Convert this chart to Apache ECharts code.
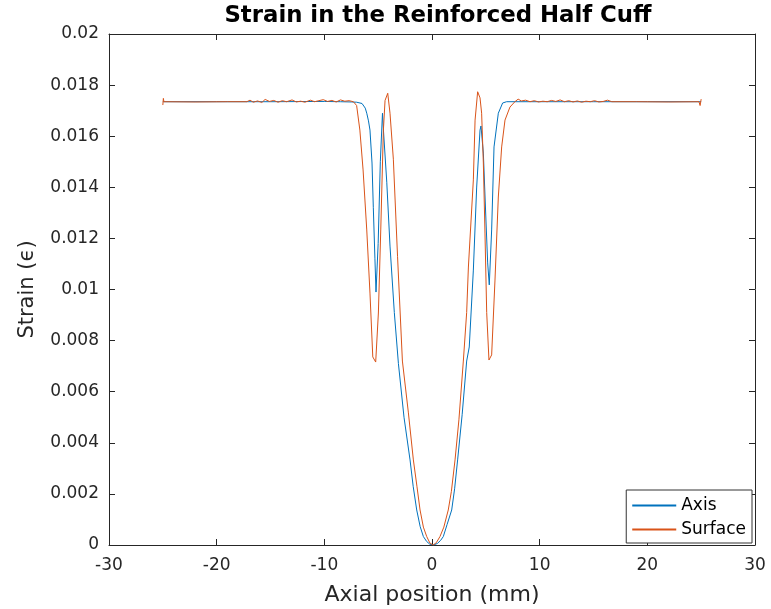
<!DOCTYPE html>
<html>
<head>
<meta charset="utf-8">
<title>Strain in the Reinforced Half Cuff</title>
<script src="https://cdn.jsdelivr.net/npm/echarts@6/dist/echarts.min.js"></script>
<style>
  html, body { margin: 0; padding: 0; background: #fff; }
  #chart { width: 771px; height: 609px; }
</style>
</head>
<body>
<div id="chart"></div>
<script>
// Axis (blue) curve
const axisX = [-25, -20, -15, -10, -8.5, -7.5, -7.0, -6.5, -6.2, -6.06, -5.9, -5.76, -5.57, -5.45, -5.3, -5.2,
  -5.0, -4.8, -4.6, -4.52, -4.2, -3.9, -3.5, -3.12, -2.6, -2.04, -1.75, -1.42, -1.1, -0.8, -0.5, -0.2, 0.15,
  0.5, 0.8, 1.05, 1.4, 1.83, 2.1, 2.38, 2.8, 3.22, 3.46, 3.84, 4.15, 4.46, 4.55, 4.77, 5.01, 5.17, 5.32,
  5.54, 5.76, 6.16, 6.56, 6.93, 10, 15, 20, 25];
const axisY = [0.01735, 0.01735, 0.01735, 0.01736, 0.01735, 0.01734, 0.01733, 0.01728, 0.0171, 0.0169, 0.0166, 0.01624, 0.01495, 0.0132, 0.0112, 0.0099,
  0.0118, 0.015, 0.0169, 0.0163, 0.0142, 0.0117, 0.0091, 0.0071, 0.005, 0.00333, 0.0023, 0.00137, 0.00072, 0.00033, 0.00014, 0.00003, 0,
  0.00006, 0.00018, 0.00033, 0.0008, 0.00137, 0.0022, 0.00333, 0.0051, 0.0072, 0.00775, 0.01076, 0.01401, 0.01624, 0.0164, 0.01534, 0.01272, 0.01104, 0.01018,
  0.01233, 0.01558, 0.0169, 0.0173, 0.01735, 0.01735, 0.01735, 0.01735, 0.01735];

// Surface (orange) curve
const surfX = [-25, -24.95, -24.9, -24.8, -22, -19, -17.2, -16.9, -16.6, -16.2, -15.8, -15.5, -15.1, -14.7, -14.3, -13.9,
  -13.5, -13.0, -12.6, -12.2, -11.8, -11.3, -10.9, -10.5, -10.1, -9.7, -9.3, -8.9, -8.5, -8.1, -7.7, -7.3,
  -7.0, -6.7, -6.4, -6.06, -5.76, -5.5, -5.23, -4.98, -4.76, -4.52, -4.36, -4.11, -3.9, -3.59, -3.2, -2.75,
  -2.2, -1.73, -1.4, -1.11, -0.8, -0.49, -0.2, 0.1, 0.4, 0.74, 1.1, 1.51, 1.8, 2.14, 2.5, 2.91,
  3.22, 3.38, 3.84, 4.0, 4.24, 4.46, 4.61, 4.77, 4.92,
  5.08, 5.29, 5.39, 5.54, 5.85, 6.16, 6.47, 6.78, 7.24, 7.7, 8.0, 8.3, 8.7, 9.1, 9.5, 9.9, 10.3, 10.7,
  11.1, 11.5, 11.9, 12.3, 12.7, 13.1, 13.5, 13.9, 14.3, 14.7, 15.1, 15.5, 15.9, 16.3, 16.7, 19, 22, 24.8,
  24.9, 25];
const surfY = [0.01722, 0.01748, 0.01735, 0.01735, 0.01734, 0.01735, 0.01735, 0.01741, 0.01733, 0.01738, 0.01732, 0.01744, 0.01736, 0.0174, 0.01733, 0.01739,
  0.01735, 0.01742, 0.01734, 0.01737, 0.01733, 0.01741, 0.01735, 0.01739, 0.01743, 0.01736, 0.0174, 0.01734, 0.01742, 0.01737, 0.01739, 0.01735,
  0.0172, 0.01624, 0.01468, 0.01233, 0.00986, 0.00736, 0.00716, 0.00908, 0.01233, 0.0162, 0.0174, 0.01768, 0.0169, 0.0151, 0.0113, 0.0072,
  0.0052, 0.00333, 0.0023, 0.00137, 0.0007, 0.00033, 0.00008, 0, 0.00009, 0.00033, 0.0007, 0.00137, 0.0021, 0.00333, 0.0049, 0.0072,
  0.0091, 0.01088, 0.01429, 0.01663, 0.01774, 0.0175, 0.0169, 0.01495, 0.01221,
  0.0091, 0.00724, 0.00717, 0.00744, 0.01037, 0.01362, 0.01558, 0.01663, 0.01714, 0.01735, 0.01745, 0.01738, 0.01741, 0.01735, 0.01739, 0.01734, 0.01737, 0.01735,
  0.0174, 0.01736, 0.01742, 0.01735, 0.01739, 0.01734, 0.01738, 0.01733, 0.01737, 0.01735, 0.01739, 0.01734, 0.01736, 0.01741, 0.01735, 0.01735, 0.01734, 0.01735,
  0.0172, 0.01745];

const xTicks = [-30, 30, 10];   // min, max, step
const yTicks = [0, 0.02, 0.002];

const chart = echarts.init(document.getElementById('chart'));

const axisColor = '#262626';
const tickFont = { color: axisColor, fontSize: 17, fontFamily: 'DejaVu Sans' };

function fmt(v) {
  return String(parseFloat(v.toFixed(4)));
}

// box axes: line + inward ticks, never on zero
function boxAxis(extra) {
  return Object.assign({
    type: 'value',
    axisLine: { show: true, onZero: false, lineStyle: { color: axisColor, width: 1 } },
    axisTick: { show: true, inside: true, length: 6, lineStyle: { color: axisColor } },
    splitLine: { show: false }
  }, extra);
}

const option = {
  animation: false,
  backgroundColor: '#fff',
  title: {
    text: 'Strain in the Reinforced Half Cuff',
    left: 433,
    top: 0,
    textAlign: 'center',
    textStyle: { fontFamily: 'DejaVu Sans', fontWeight: 'bold', fontSize: 22.8, color: '#000' }
  },
  grid: { left: 109, right: 16, top: 34, bottom: 64, containLabel: false, outerBoundsMode: 'none' },
  legend: {
    right: 19,
    bottom: 66,
    orient: 'vertical',
    backgroundColor: '#fff',
    borderColor: '#333',
    borderWidth: 1,
    borderRadius: 0,
    padding: [7, 6, 5, 6],
    itemGap: 7,
    itemWidth: 44,
    itemHeight: 2,
    icon: 'rect',
    textStyle: { fontFamily: 'DejaVu Sans', fontSize: 17, color: '#000' },
    data: ['Axis', 'Surface']
  },
  xAxis: [
    boxAxis({
      min: xTicks[0], max: xTicks[1], interval: xTicks[2],
      name: 'Axial position (mm)',
      nameLocation: 'middle',
      nameGap: 39,
      nameTextStyle: { fontFamily: 'DejaVu Sans', fontSize: 22, color: axisColor },
      axisLabel: Object.assign({ margin: 12, formatter: fmt }, tickFont)
    }),
    boxAxis({
      position: 'top',
      min: xTicks[0], max: xTicks[1], interval: xTicks[2],
      axisLabel: { show: false }
    })
  ],
  yAxis: [
    boxAxis({
      min: yTicks[0], max: yTicks[1], interval: yTicks[2],
      name: 'Strain (\u03f5)',
      nameLocation: 'middle',
      nameGap: 71,
      nameTextStyle: { fontFamily: 'DejaVu Sans', fontSize: 21, color: axisColor },
      axisLabel: Object.assign({ margin: 10, formatter: fmt }, tickFont)
    }),
    boxAxis({
      position: 'right',
      min: yTicks[0], max: yTicks[1], interval: yTicks[2],
      axisLabel: { show: false }
    })
  ],
  series: [{
    name: 'Axis',
    type: 'line',
    showSymbol: false,
    data: axisX.map((x, i) => [x, axisY[i]]),
    lineStyle: { color: '#0072BD', width: 1 },
    itemStyle: { color: '#0072BD' },
    z: 2
  }, {
    name: 'Surface',
    type: 'line',
    showSymbol: false,
    data: surfX.map((x, i) => [x, surfY[i]]),
    lineStyle: { color: '#D95319', width: 1 },
    itemStyle: { color: '#D95319' },
    z: 3
  }]
};

chart.setOption(option);
</script>
</body>
</html>
